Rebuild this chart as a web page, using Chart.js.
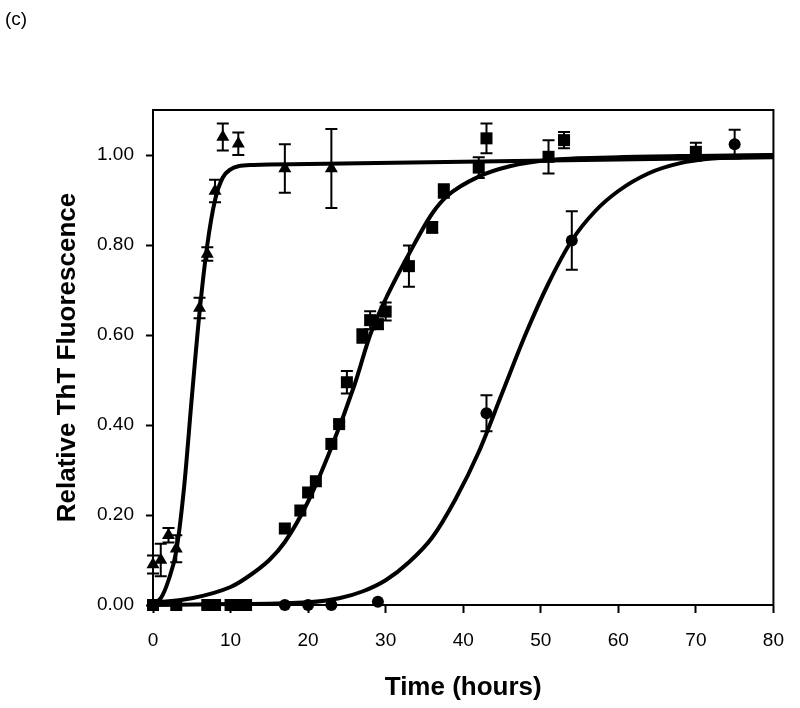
<!DOCTYPE html>
<html>
<head>
<meta charset="utf-8">
<script src="https://cdn.jsdelivr.net/npm/chart.js@4"></script>
<style>
  body { margin: 0; background: #fff; }
  #wrap { position: relative; width: 800px; height: 708px; }
  #label { position: absolute; left: 5px; top: 8px; font: 19px "Liberation Sans", Arial, sans-serif; color: #000; }
</style>
</head>
<body>
<div id="wrap">
  <canvas id="chart" width="800" height="708"></canvas>
  <div id="label">(c)</div>
</div>
<script>
// measured points (hours, relative fluorescence, error)
let triX = [0, 1, 2, 3, 6, 7, 8, 9, 11, 17, 23];
let triY = [0.09, 0.10, 0.155, 0.125, 0.66, 0.78, 0.92, 1.04, 1.025, 0.97, 0.97];
let triErr = [0.02, 0.036, 0.016, 0.03, 0.023, 0.015, 0.025, 0.03, 0.025, 0.054, 0.088];

let sqX = [0, 3, 7, 8, 10, 11, 12, 17, 19, 20, 21, 23, 24, 25, 27, 28, 29, 30, 33, 36, 37.5, 42, 43, 51, 53, 70];
let sqY = [0, 0, 0, 0, 0, 0, 0, 0.17, 0.21, 0.25, 0.275, 0.358, 0.402, 0.495, 0.598, 0.633, 0.624, 0.652, 0.753, 0.839, 0.92, 0.972, 1.037, 0.996, 1.033, 1.007];
let sqErr = [0, 0, 0, 0, 0, 0, 0, 0, 0, 0, 0, 0, 0.005, 0.025, 0.015, 0.02, 0.01, 0.02, 0.046, 0.012, 0.015, 0.023, 0.033, 0.037, 0.018, 0.02];

let cirX = [0, 3, 7, 10, 11, 12, 17, 20, 23, 29, 43, 54, 75];
let cirY = [0, 0, 0, 0, 0, 0, 0, 0, 0, 0.007, 0.426, 0.81, 1.024];
let cirErr = [0, 0, 0, 0, 0, 0, 0, 0, 0, 0, 0.04, 0.065, 0.032];

// fitted curves
let fit1X = [0, 1, 2, 3, 4, 5, 6, 7, 8, 9, 10, 11, 13, 20, 40, 60, 80];
let fit1Y = [0.005, 0.015, 0.055, 0.12, 0.26, 0.46, 0.65, 0.8, 0.9, 0.95, 0.968, 0.975, 0.978, 0.98, 0.985, 0.99, 0.995];

let fit2X = [0, 5, 10, 12, 15, 17, 20, 23, 26, 28, 30, 33, 36, 38, 42, 46, 51, 60, 70, 80];
let fit2Y = [0.005, 0.015, 0.04, 0.06, 0.1, 0.14, 0.23, 0.35, 0.49, 0.6, 0.68, 0.78, 0.87, 0.91, 0.952, 0.975, 0.989, 0.995, 0.998, 1.0];

let fit3X = [0, 10, 20, 24, 27, 30, 33, 36, 39, 42, 45, 48, 51, 54, 57, 60, 64, 68, 72, 80];
let fit3Y = [0, 0.002, 0.006, 0.015, 0.03, 0.055, 0.095, 0.15, 0.235, 0.34, 0.47, 0.6, 0.715, 0.81, 0.875, 0.92, 0.96, 0.982, 0.992, 1.0];

let xTicks = [0, 10, 20, 30, 40, 50, 60, 70, 80];
let yTicks = [0, 0.2, 0.4, 0.6, 0.8, 1.0];

function pts(xs, ys) {
    return xs.map((x, i) => ({x: x, y: ys[i]}));
}

function markers(xs, ys, errs, style, r) {
    return {
        type: 'scatter',
        data: pts(xs, ys),
        errors: errs,
        pointStyle: style,
        pointRadius: r,
        pointHoverRadius: r,
        backgroundColor: '#000',
        borderColor: '#000',
        borderWidth: 0,
        clip: false
    };
}

function curve(xs, ys) {
    return {
        type: 'line',
        data: pts(xs, ys),
        borderColor: '#000',
        borderWidth: 4,
        pointRadius: 0,
        fill: false,
        cubicInterpolationMode: 'monotone',
        clip: false
    };
}

// error bars + frame
const extras = {
    id: 'extras',
    beforeDatasetsDraw(chart) {
        let ctx = chart.ctx;
        let xs = chart.scales.x, ys = chart.scales.y;
        ctx.save();
        ctx.strokeStyle = '#000';
        ctx.lineWidth = 2;
        chart.data.datasets.forEach(ds => {
            if (!ds.errors) return;
            ds.data.forEach((p, i) => {
                let e = ds.errors[i];
                if (!e) return;
                let px = xs.getPixelForValue(p.x);
                let top = ys.getPixelForValue(p.y + e);
                let bot = ys.getPixelForValue(p.y - e);
                ctx.beginPath();
                ctx.moveTo(px, top); ctx.lineTo(px, bot);
                ctx.moveTo(px - 6, top); ctx.lineTo(px + 6, top);
                ctx.moveTo(px - 6, bot); ctx.lineTo(px + 6, bot);
                ctx.stroke();
            });
        });
        ctx.restore();
    },
    afterDraw(chart) {
        let a = chart.chartArea, ctx = chart.ctx;
        ctx.save();
        ctx.strokeStyle = '#000';
        ctx.lineWidth = 2;
        ctx.strokeRect(a.left, a.top, a.right - a.left, a.bottom - a.top);
        ctx.restore();
    }
};

new Chart(document.getElementById('chart'), {
    data: {
        datasets: [
            curve(fit1X, fit1Y),
            curve(fit2X, fit2Y),
            curve(fit3X, fit3Y),
            markers(triX, triY, triErr, 'triangle', 7.5),
            markers(sqX, sqY, sqErr, 'rect', 8.5),
            markers(cirX, cirY, cirErr, 'circle', 6)
        ]
    },
    options: {
        responsive: false,
        animation: false,
        layout: { padding: { left: 0, top: 110, right: 19, bottom: 0 } },
        plugins: { legend: { display: false }, tooltip: { enabled: false } },
        scales: {
            x: {
                type: 'linear',
                min: 0, max: 80,
                afterBuildTicks: s => { s.ticks = xTicks.map(v => ({value: v})); },
                afterFit: s => { s.height = 103; },
                ticks: { color: '#000', padding: 16, maxRotation: 0, font: { family: 'Liberation Sans', size: 19 } },
                grid: { drawOnChartArea: false, drawTicks: true, tickLength: 8, tickColor: '#000', tickWidth: 2 },
                border: { color: '#000', width: 2 },
                title: { display: true, text: 'Time (hours)', color: '#000', padding: { top: 0, bottom: 5 },
                         font: { family: 'Liberation Sans', size: 26, weight: 'bold' } }
            },
            y: {
                type: 'linear',
                min: 0, max: 1.1,
                afterBuildTicks: s => { s.ticks = yTicks.map(v => ({value: v})); },
                afterFit: s => { s.width = 153; },
                ticks: { color: '#000', padding: 12, callback: v => v.toFixed(2),
                         font: { family: 'Liberation Sans', size: 19 } },
                grid: { drawOnChartArea: false, drawTicks: true, tickLength: 7, tickColor: '#000', tickWidth: 2 },
                border: { color: '#000', width: 2 },
                title: { display: true, text: 'Relative ThT Fluorescence', color: '#000', padding: { top: 52, bottom: 0 },
                         font: { family: 'Liberation Sans', size: 26, weight: 'bold' } }
            }
        }
    },
    plugins: [extras]
});
</script>
</body>
</html>
